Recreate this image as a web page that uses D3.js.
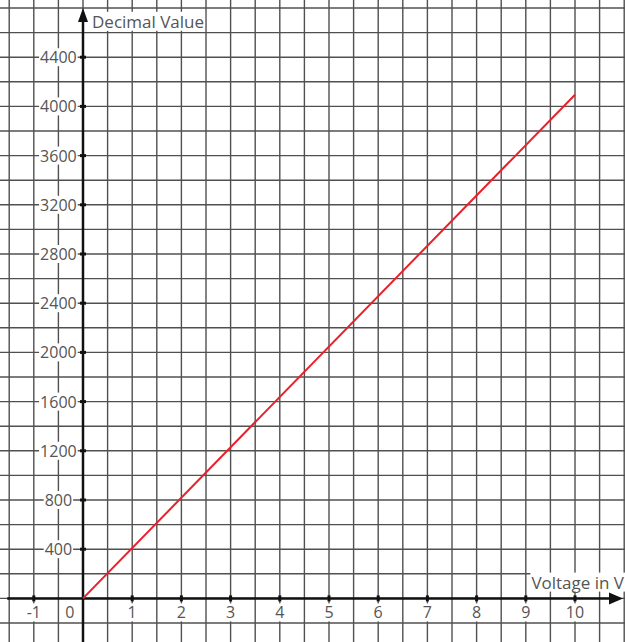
<!DOCTYPE html>
<html><head><meta charset="utf-8">
<script src="https://cdn.jsdelivr.net/npm/d3@7"></script>
<style>body{margin:0;background:#fff}svg{display:block}</style>
</head><body>
<script>
const xTicks = [-1, 1, 2, 3, 4, 5, 6, 7, 8, 9, 10];
const yTicks = [400, 800, 1200, 1600, 2000, 2400, 2800, 3200, 3600, 4000, 4400];
const lineX = [0, 10];
const lineY = [0, 4095];
const xTitle = "Voltage in V";
const yTitle = "Decimal Value";

const W = 625, H = 642;
const svg = d3.select("body").append("svg").attr("width", W).attr("height", H);
const x = d3.scaleLinear().domain([-1.5, 11]).range([9.2, 624.2]);
const y = d3.scaleLinear().domain([-200, 4800]).range([623, 8]);

// grid
const gx = d3.range(-1.5, 11.01, 0.5);
const gy = d3.range(-200, 4801, 200);
const grid = svg.append("g").attr("stroke", "#505050").attr("stroke-width", 1.4);
grid.selectAll("line.v").data(gx).join("line").attr("class","v")
  .attr("x1", d => x(d)).attr("x2", d => x(d)).attr("y1", 0).attr("y2", H);
grid.selectAll("line.h").data(gy).join("line").attr("class","h")
  .attr("y1", d => y(d)).attr("y2", d => y(d)).attr("x1", 0).attr("x2", W);

const font = "'Open Sans', sans-serif";
function label(tx, ty, text, anchor, size) {
  const t = svg.append("text").attr("x", tx).attr("y", ty).attr("text-anchor", anchor || "middle")
    .attr("dominant-baseline", "central").attr("font-family", font).attr("font-size", size || 16)
    .attr("fill", "#555").text(text);
  const b = t.node().getBBox();
  svg.insert("rect", () => t.node()).attr("x", b.x - 1).attr("y", b.y + 2).attr("width", b.width + 2)
    .attr("height", b.height - 4).attr("fill", "#fff");
  return t;
}

// axes
svg.append("line").attr("x1", x(-1.5) - 2).attr("x2", W - 12).attr("y1", y(0)).attr("y2", y(0))
  .attr("stroke", "#111").attr("stroke-width", 2.5);
svg.append("line").attr("x1", x(0)).attr("x2", x(0)).attr("y1", H).attr("y2", 18)
  .attr("stroke", "#111").attr("stroke-width", 2.5);
svg.append("path").attr("d", `M${W-2},${y(0)} L${W-16},${y(0)-6} L${W-16},${y(0)+6}Z`).attr("fill", "#111");
svg.append("path").attr("d", `M${x(0)},8 L${x(0)-5},22 L${x(0)+5},22Z`).attr("fill", "#111");

// ticks
svg.selectAll("line.xt").data(xTicks).join("line").attr("class","xt")
  .attr("x1", d => x(d)).attr("x2", d => x(d)).attr("y1", y(0) - 3).attr("y2", y(0) + 3)
  .attr("stroke", "#111").attr("stroke-width", 3);
svg.selectAll("line.yt").data(yTicks).join("line").attr("class","yt")
  .attr("y1", d => y(d)).attr("y2", d => y(d)).attr("x1", x(0) - 3).attr("x2", x(0) + 3)
  .attr("stroke", "#111").attr("stroke-width", 3);

// labels
xTicks.forEach(d => label(x(d), y(0) + 14, d));
label(x(-0.27), y(0) + 14, 0);
yTicks.forEach(d => label(x(-0.5), y(d), d));
label(x(0) + 9, y(4700) + 1, yTitle, "start", 17);
label(W - 1, y(100) - 4, xTitle, "end", 17);

// data line
svg.append("path").datum(lineX.map((v, i) => [v, lineY[i]]))
  .attr("d", d3.line().x(d => x(d[0])).y(d => y(d[1])))
  .attr("fill", "none").attr("stroke", "#e8202a").attr("stroke-width", 2);
</script>
</body></html>
